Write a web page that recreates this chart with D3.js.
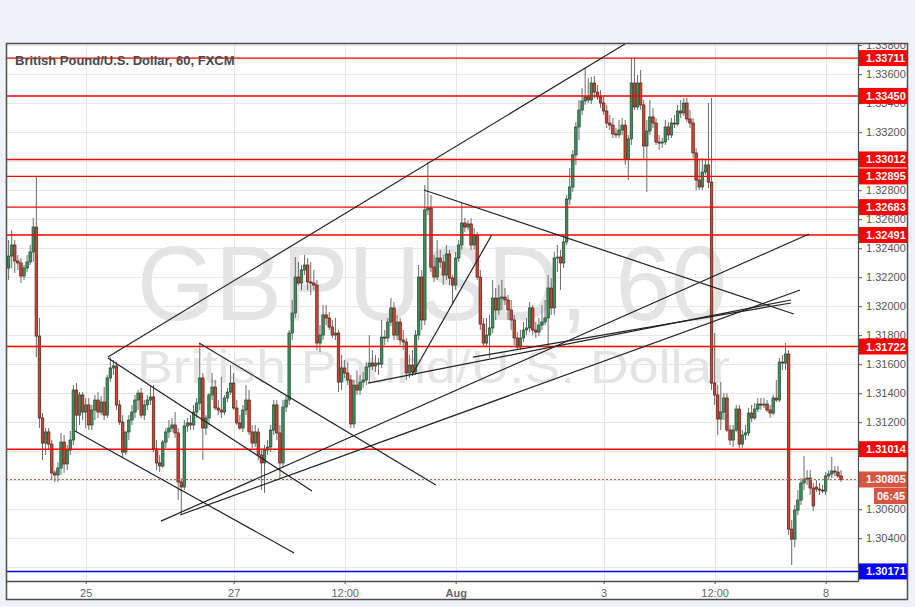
<!DOCTYPE html>
<html><head><meta charset="utf-8">
<script src="https://cdnjs.cloudflare.com/ajax/libs/d3/7.8.5/d3.min.js"></script>
<style>
html,body{margin:0;padding:0;background:#eff2f6;}
svg{display:block;}
text{font-family:"Liberation Sans",Arial,sans-serif;}
</style></head><body>
<svg id="c" width="915" height="607"></svg>
<script>
// ---------- DATA ----------
const title = "British Pound/U.S. Dollar, 60, FXCM";
const watermarkBig = "GBPUSD, 60";
const watermarkSmall = "British Pound/U.S. Dollar";
// hourly candles [open, high, low, close], one per bar index
const candles = [
[1.32263,1.32456,1.32181,1.32346],[1.32346,1.32525,1.32263,1.32422],[1.32422,1.32456,1.32229,1.32312],
[1.32312,1.32353,1.32250,1.32298],[1.32298,1.32332,1.32160,1.32208],[1.32208,1.32284,1.32181,1.32263],
[1.32263,1.32353,1.32236,1.32305],[1.32305,1.32422,1.32284,1.32374],[1.32374,1.32608,1.32305,1.32546],
[1.32546,1.32898,1.31649,1.31794],[1.31794,1.31919,1.31160,1.31229],[1.31229,1.31263,1.30939,1.31056],
[1.31056,1.31160,1.30974,1.31133],[1.31133,1.31160,1.31008,1.31049],[1.31049,1.31077,1.30801,1.30850],
[1.30850,1.30870,1.30788,1.30836],[1.30836,1.30925,1.30788,1.30884],[1.30884,1.31126,1.30836,1.31063],
[1.31063,1.31112,1.30850,1.30912],[1.30912,1.31043,1.30870,1.31008],[1.31008,1.31140,1.30974,1.31077],
[1.31077,1.31456,1.31043,1.31422],[1.31422,1.31470,1.31133,1.31249],[1.31249,1.31408,1.31181,1.31388],
[1.31388,1.31408,1.31215,1.31270],[1.31270,1.31367,1.31160,1.31319],[1.31319,1.31367,1.31146,1.31181],
[1.31181,1.31319,1.31146,1.31284],[1.31284,1.31388,1.31215,1.31353],[1.31353,1.31408,1.31229,1.31270],
[1.31270,1.31381,1.31249,1.31339],[1.31339,1.31443,1.31215,1.31249],[1.31249,1.31526,1.31229,1.31505],
[1.31505,1.31649,1.31477,1.31574],[1.31574,1.31629,1.31526,1.31588],[1.31588,1.31615,1.31284,1.31319],
[1.31319,1.31353,1.31181,1.31201],[1.31201,1.31249,1.30953,1.30994],[1.30994,1.31077,1.30974,1.31133],
[1.31133,1.31249,1.31077,1.31215],[1.31215,1.31319,1.31181,1.31270],[1.31270,1.31388,1.31229,1.31353],
[1.31353,1.31422,1.31284,1.31401],[1.31401,1.31436,1.31229,1.31249],[1.31249,1.31353,1.31215,1.31319],
[1.31319,1.31388,1.31284,1.31353],[1.31353,1.31456,1.31319,1.31374],[1.31374,1.31456,1.30994,1.31015],
[1.31015,1.31077,1.30870,1.30919],[1.30919,1.30974,1.30856,1.30898],[1.30898,1.31077,1.30884,1.31063],
[1.31063,1.31160,1.31022,1.31133],[1.31133,1.31215,1.31091,1.31160],[1.31160,1.31229,1.31133,1.31181],
[1.31181,1.31270,1.31091,1.31126],[1.31126,1.31160,1.30663,1.30788],[1.30788,1.30815,1.30560,1.30753],
[1.30753,1.31215,1.30732,1.31174],[1.31174,1.31229,1.31133,1.31195],[1.31195,1.31249,1.31146,1.31181],
[1.31181,1.31319,1.31146,1.31270],[1.31270,1.31367,1.31229,1.31332],[1.31332,1.31746,1.31284,1.31505],
[1.31505,1.31539,1.30939,1.31160],[1.31160,1.31249,1.31112,1.31229],[1.31229,1.31401,1.31181,1.31388],
[1.31388,1.31539,1.31353,1.31443],[1.31443,1.31491,1.31284,1.31298],[1.31298,1.31353,1.31249,1.31284],
[1.31284,1.31512,1.31229,1.31270],[1.31270,1.31388,1.31249,1.31367],[1.31367,1.31436,1.31339,1.31408],
[1.31408,1.31594,1.31388,1.31470],[1.31470,1.31539,1.31284,1.31298],[1.31298,1.31353,1.31181,1.31195],
[1.31195,1.31249,1.31146,1.31160],[1.31160,1.31319,1.31133,1.31284],[1.31284,1.31456,1.31249,1.31353],
[1.31353,1.31422,1.31112,1.31133],[1.31133,1.31181,1.31022,1.31056],[1.31056,1.31181,1.31029,1.31133],
[1.31133,1.31160,1.30939,1.30974],[1.30974,1.31008,1.30732,1.30919],[1.30919,1.31043,1.30712,1.31008],
[1.31008,1.31077,1.30974,1.31029],[1.31029,1.31181,1.30994,1.31146],[1.31146,1.31353,1.31112,1.31319],
[1.31319,1.31353,1.31077,1.31126],[1.31126,1.31181,1.30815,1.30919],[1.30919,1.31353,1.30884,1.31305],
[1.31305,1.31388,1.31270,1.31353],[1.31353,1.31836,1.31319,1.31815],[1.31815,1.32043,1.31767,1.31953],
[1.31953,1.32339,1.31919,1.32201],[1.32201,1.32305,1.32146,1.32160],[1.32160,1.32284,1.32112,1.32250],
[1.32250,1.32353,1.32215,1.32284],[1.32284,1.32332,1.32112,1.32167],[1.32167,1.32305,1.32077,1.32160],
[1.32160,1.32250,1.32112,1.32146],[1.32146,1.32181,1.31698,1.31746],[1.31746,1.31870,1.31684,1.31801],
[1.31801,1.32008,1.31767,1.31940],[1.31940,1.32008,1.31870,1.31919],[1.31919,1.31960,1.31836,1.31856],
[1.31856,1.31905,1.31781,1.31801],[1.31801,1.31919,1.31767,1.31815],[1.31815,1.31836,1.31408,1.31477],
[1.31477,1.31663,1.31422,1.31574],[1.31574,1.31629,1.31505,1.31539],[1.31539,1.31615,1.31456,1.31491],
[1.31491,1.31526,1.31160,1.31188],[1.31188,1.31491,1.31160,1.31456],[1.31456,1.31560,1.31388,1.31422],
[1.31422,1.31526,1.31388,1.31477],[1.31477,1.31546,1.31436,1.31491],[1.31491,1.31615,1.31456,1.31581],
[1.31581,1.31801,1.31470,1.31608],[1.31608,1.31698,1.31560,1.31588],[1.31588,1.31663,1.31546,1.31608],
[1.31608,1.31643,1.31526,1.31601],[1.31601,1.31905,1.31574,1.31787],[1.31787,1.31836,1.31732,1.31781],
[1.31781,1.31919,1.31753,1.31891],[1.31891,1.32056,1.31863,1.31988],[1.31988,1.32029,1.31767,1.31801],
[1.31801,1.31940,1.31767,1.31891],[1.31891,1.31919,1.31732,1.31767],[1.31767,1.31836,1.31698,1.31753],
[1.31753,1.31781,1.31491,1.31539],[1.31539,1.31663,1.31505,1.31594],[1.31594,1.31698,1.31519,1.31546],
[1.31546,1.31836,1.31526,1.31801],[1.31801,1.32284,1.31767,1.32201],[1.32201,1.32250,1.31836,1.31905],
[1.31905,1.32836,1.31870,1.32664],[1.32664,1.32994,1.32629,1.32677],[1.32677,1.32767,1.32236,1.32270],
[1.32270,1.32353,1.32167,1.32201],[1.32201,1.32456,1.32181,1.32332],[1.32332,1.32388,1.32263,1.32305],
[1.32305,1.32353,1.32146,1.32215],[1.32215,1.32422,1.32181,1.32360],[1.32360,1.32388,1.32146,1.32194],
[1.32194,1.32215,1.32022,1.32146],[1.32146,1.32374,1.32112,1.32332],[1.32332,1.32456,1.32305,1.32422],
[1.32422,1.32712,1.32388,1.32574],[1.32574,1.32608,1.32512,1.32546],[1.32546,1.32594,1.32525,1.32567],
[1.32567,1.32608,1.32388,1.32422],[1.32422,1.32539,1.32388,1.32491],[1.32491,1.32512,1.32181,1.32201],
[1.32201,1.32250,1.31836,1.31877],[1.31877,1.31919,1.31725,1.31746],[1.31746,1.31919,1.31725,1.31801],
[1.31801,1.31940,1.31643,1.31850],[1.31850,1.32181,1.31815,1.32056],[1.32056,1.32125,1.31905,1.31974],
[1.31974,1.32146,1.31940,1.32056],[1.32056,1.32181,1.31974,1.32063],[1.32063,1.32125,1.32008,1.32043],
[1.32043,1.32077,1.31905,1.31974],[1.31974,1.32043,1.31836,1.31905],[1.31905,1.31940,1.31732,1.31781],
[1.31781,1.31822,1.31698,1.31718],[1.31718,1.31836,1.31698,1.31781],[1.31781,1.31891,1.31753,1.31836],
[1.31836,1.31919,1.31801,1.31850],[1.31850,1.32029,1.31822,1.31988],[1.31988,1.32008,1.31801,1.31836],
[1.31836,1.31891,1.31781,1.31822],[1.31822,1.31919,1.31794,1.31870],[1.31870,1.32008,1.31836,1.31891],
[1.31891,1.32043,1.31870,1.31919],[1.31919,1.32215,1.31718,1.32125],[1.32125,1.32194,1.31940,1.31988],
[1.31988,1.32374,1.31940,1.32332],[1.32332,1.32422,1.32236,1.32339],[1.32339,1.32388,1.32112,1.32298],
[1.32298,1.32491,1.32263,1.32443],[1.32443,1.32767,1.32422,1.32739],[1.32739,1.32953,1.32698,1.32822],
[1.32822,1.33077,1.32788,1.33043],[1.33043,1.33270,1.32974,1.33236],[1.33236,1.33422,1.33146,1.33353],
[1.33353,1.33505,1.33319,1.33415],[1.33415,1.33643,1.33388,1.33443],[1.33443,1.33574,1.33401,1.33422],
[1.33422,1.33581,1.33394,1.33539],[1.33539,1.33588,1.33436,1.33477],[1.33477,1.33525,1.33422,1.33443],
[1.33443,1.33491,1.33367,1.33401],[1.33401,1.33450,1.33319,1.33346],[1.33346,1.33388,1.33229,1.33263],
[1.33263,1.33319,1.33215,1.33249],[1.33249,1.33298,1.33160,1.33188],[1.33188,1.33229,1.33160,1.33181],
[1.33181,1.33284,1.33160,1.33215],[1.33215,1.33298,1.33181,1.33249],[1.33249,1.33284,1.32974,1.33015],
[1.33015,1.33181,1.32870,1.33153],[1.33153,1.33712,1.33112,1.33539],[1.33539,1.33712,1.33353,1.33374],
[1.33374,1.33594,1.33353,1.33539],[1.33539,1.33629,1.33353,1.33388],[1.33388,1.33422,1.33008,1.33105],
[1.33105,1.33284,1.32788,1.33208],[1.33208,1.33422,1.33181,1.33305],[1.33305,1.33367,1.33229,1.33263],
[1.33263,1.33298,1.33112,1.33132],[1.33132,1.33181,1.33077,1.33125],[1.33125,1.33160,1.33091,1.33132],
[1.33132,1.33284,1.33112,1.33236],[1.33236,1.33270,1.33146,1.33181],[1.33181,1.33298,1.33160,1.33263],
[1.33263,1.33319,1.33229,1.33256],[1.33256,1.33388,1.33243,1.33346],[1.33346,1.33422,1.33298,1.33332],
[1.33332,1.33436,1.33312,1.33401],[1.33401,1.33436,1.33270,1.33291],[1.33291,1.33353,1.33229,1.33263],
[1.33263,1.33298,1.33022,1.33057],[1.33057,1.33091,1.32801,1.32870],[1.32870,1.33008,1.32801,1.32822],
[1.32822,1.33022,1.32801,1.32925],[1.32925,1.33008,1.32905,1.32974],[1.32974,1.33401,1.32815,1.32856],
[1.32856,1.33436,1.31422,1.31470],[1.31470,1.31815,1.31319,1.31388],[1.31388,1.31456,1.31112,1.31222],
[1.31222,1.31477,1.31146,1.31270],[1.31270,1.31401,1.31215,1.31367],[1.31367,1.31401,1.31133,1.31146],
[1.31146,1.31181,1.31043,1.31077],[1.31077,1.31181,1.31029,1.31146],[1.31146,1.31319,1.31133,1.31291],
[1.31291,1.31319,1.31022,1.31049],[1.31049,1.31146,1.31022,1.31112],[1.31112,1.31181,1.31077,1.31126],
[1.31126,1.31298,1.31105,1.31263],[1.31263,1.31319,1.31201,1.31229],[1.31229,1.31332,1.31215,1.31291],
[1.31291,1.31367,1.31270,1.31325],[1.31325,1.31367,1.31284,1.31319],[1.31319,1.31367,1.31298,1.31325],
[1.31325,1.31353,1.31270,1.31284],[1.31284,1.31319,1.31229,1.31263],[1.31263,1.31388,1.31249,1.31367],
[1.31367,1.31491,1.31339,1.31353],[1.31353,1.31643,1.31339,1.31615],[1.31615,1.31663,1.31560,1.31608],
[1.31608,1.31746,1.31560,1.31670],[1.31670,1.31698,1.30422,1.30463],[1.30463,1.30525,1.30215,1.30394],
[1.30394,1.30629,1.30339,1.30594],[1.30594,1.30732,1.30560,1.30663],[1.30663,1.30815,1.30629,1.30781],
[1.30781,1.30967,1.30732,1.30808],[1.30808,1.30870,1.30767,1.30815],[1.30815,1.30870,1.30698,1.30746],
[1.30746,1.30781,1.30588,1.30622],[1.30753,1.30801,1.30718,1.30739],[1.30739,1.30781,1.30698,1.30732],
[1.30732,1.30767,1.30712,1.30725],[1.30725,1.30856,1.30698,1.30829],[1.30829,1.30870,1.30801,1.30843],
[1.30843,1.30960,1.30815,1.30863],[1.30863,1.30898,1.30829,1.30856],[1.30856,1.30898,1.30815,1.30829],
[1.30829,1.30870,1.30788,1.30805]
];
const xTickBars   = [25, 73, 109, 145, 193, 229, 265];
const xTickLabels = ["25", "27", "12:00", "Aug", "3", "12:00", "8"];
const yTickValues = [1.302,1.304,1.306,1.308,1.310,1.312,1.314,1.316,1.318,1.320,1.322,1.324,1.326,1.328,1.330,1.332,1.334,1.336,1.338];
const redLevels  = [1.33711, 1.33450, 1.33012, 1.32895, 1.32683, 1.32491, 1.31722, 1.31014];
const blueLevel  = 1.30171;
const lastPrice  = 1.30805;
const countdown  = "06:45";
// trend lines: [barIndex1, price1, barIndex2, price2]
const trendLines = [
  [32.2, 1.31649, 199.9, 1.33808],
  [32.2, 1.31643, 98.4, 1.30725],
  [21.5, 1.31140, 92.6, 1.30298],
  [61.8, 1.31746, 138.6, 1.30767],
  [49.4, 1.30518, 259.6, 1.32498],
  [55.6, 1.30560, 256.7, 1.32112],
  [116.6, 1.31470, 253.8, 1.32043],
  [150.6, 1.31649, 253.8, 1.32022],
  [130.8, 1.31526, 156.7, 1.32491],
  [134.7, 1.32801, 254.7, 1.31946]
];

// ---------- LAYOUT ----------
const L = 6, R = 858, T = 43, B = 581, AX = 908, FB = 600;
const svg = d3.select("#c");
const x = d3.scaleLinear().domain([-0.843, 275.5]).range([L, R]);
const y = d3.scaleLinear().domain([1.30105, 1.33815]).range([B, T]);
const crisp = v => Math.round(v) + 0.5;

svg.append("rect").attr("width", 915).attr("height", 607).attr("fill", "#eff2f6");
svg.append("rect").attr("x", L).attr("y", T).attr("width", AX - L).attr("height", FB - T).attr("fill", "#fff");

const defs = svg.append("defs");
defs.append("clipPath").attr("id", "plotClip").append("rect")
  .attr("x", L).attr("y", T).attr("width", R - L).attr("height", B - T);
defs.append("clipPath").attr("id", "axisClip").append("rect")
  .attr("x", R).attr("y", T + 1).attr("width", AX - R).attr("height", B - T - 1);

// watermark
svg.append("text").attr("x", 137).attr("y", 320).attr("font-size", 106)
  .attr("textLength", 590).attr("lengthAdjust", "spacingAndGlyphs")
  .attr("fill", "#e4e4e4").text(watermarkBig);
svg.append("text").attr("x", 137).attr("y", 383).attr("font-size", 46)
  .attr("textLength", 593).attr("lengthAdjust", "spacingAndGlyphs")
  .attr("fill", "#e4e4e4").text(watermarkSmall);

// grid
const grid = svg.append("g").attr("stroke", "#e6e6e6").attr("stroke-width", 1);
grid.selectAll("line.h").data(yTickValues).join("line")
  .attr("x1", L).attr("x2", R).attr("y1", d => crisp(y(d))).attr("y2", d => crisp(y(d)));
grid.selectAll("line.v").data(xTickBars).join("line")
  .attr("y1", T).attr("y2", B).attr("x1", d => crisp(x(d))).attr("x2", d => crisp(x(d)));

// candles
const cg = svg.append("g").attr("clip-path", "url(#plotClip)");
const bars = cg.selectAll("g.c").data(candles).join("g");
bars.append("line")
  .attr("x1", (d, i) => x(i)).attr("x2", (d, i) => x(i))
  .attr("y1", d => y(d[1])).attr("y2", d => y(d[2]))
  .attr("stroke", "#6a6a6a").attr("stroke-width", 1);
bars.append("rect")
  .attr("x", (d, i) => x(i) - 1.25).attr("width", 2.5)
  .attr("y", d => y(Math.max(d[0], d[3])))
  .attr("height", d => Math.max(1, Math.abs(y(d[0]) - y(d[3]))))
  .attr("fill", d => d[3] >= d[0] ? "#3f8f5e" : "#cf4434")
  .attr("stroke", d => d[3] >= d[0] ? "#1f4a2f" : "#5a1a10")
  .attr("stroke-width", 0.7);

// horizontal levels
const lv = svg.append("g");
lv.selectAll("line.r").data(redLevels).join("line")
  .attr("x1", L).attr("x2", R).attr("y1", d => y(d)).attr("y2", d => y(d))
  .attr("stroke", "#ff0000").attr("stroke-width", 1.4);
lv.append("line").attr("x1", L).attr("x2", R).attr("y1", y(blueLevel)).attr("y2", y(blueLevel))
  .attr("stroke", "#0000ee").attr("stroke-width", 1.4);
lv.append("line").attr("x1", L).attr("x2", R).attr("y1", crisp(y(lastPrice))).attr("y2", crisp(y(lastPrice)))
  .attr("stroke", "#d9553f").attr("stroke-width", 1).attr("stroke-dasharray", "2,2");

// trend lines
svg.append("g").attr("clip-path", "url(#plotClip)").selectAll("line").data(trendLines).join("line")
  .attr("x1", d => x(d[0])).attr("y1", d => y(d[1]))
  .attr("x2", d => x(d[2])).attr("y2", d => y(d[3]))
  .attr("stroke", "#222").attr("stroke-width", 1.2);

// price axis (labels fully hidden behind a level tag are not drawn)
const tagged = redLevels.concat([lastPrice, blueLevel]);
const hidden = v => tagged.some(t => Math.abs(y(t) - y(v)) < 6);
const yaWrap = svg.append("g").attr("clip-path", "url(#axisClip)");
const ya = yaWrap.append("g").attr("transform", `translate(${R},0)`)
  .call(d3.axisRight(y).tickValues(yTickValues).tickSize(4).tickPadding(4)
    .tickFormat(v => hidden(v) ? "" : d3.format(".5f")(v)));
ya.select(".domain").remove();
ya.selectAll("line").attr("stroke", "#555");
ya.selectAll("text").attr("fill", "#555").attr("font-size", 11).attr("font-family", "Liberation Sans, Arial, sans-serif");

// x axis
const xa = svg.append("g").attr("transform", `translate(0,${B})`)
  .call(d3.axisBottom(x).tickValues(xTickBars).tickSize(3).tickPadding(5).tickFormat((d, i) => xTickLabels[i]));
xa.select(".domain").remove();
xa.selectAll("line").attr("stroke", "#555");
xa.selectAll("text").attr("fill", "#666").attr("font-size", 11).attr("font-family", "Liberation Sans, Arial, sans-serif")
  .attr("font-weight", (d, i) => xTickLabels[i] === "Aug" ? "bold" : "normal");

// level labels
function tag(val, color, label) {
  const cy = y(val);
  svg.append("rect").attr("x", R + 1).attr("y", cy - 8).attr("width", AX - R - 1).attr("height", 16).attr("fill", color);
  svg.append("text").attr("x", R + 8).attr("y", cy + 4).attr("fill", "#fff").attr("font-size", 11)
    .attr("font-weight", "bold").text(label);
}
redLevels.forEach(v => tag(v, "#ff0000", d3.format(".5f")(v)));
tag(lastPrice, "#d9553f", d3.format(".5f")(lastPrice));
tag(blueLevel, "#0000ff", d3.format(".5f")(blueLevel));
const cdY = y(lastPrice) + 8.5;
svg.append("rect").attr("x", 874).attr("y", cdY).attr("width", AX - 874).attr("height", 16).attr("fill", "#d9553f");
svg.append("text").attr("x", 877).attr("y", cdY + 12).attr("fill", "#fff").attr("font-size", 11)
  .attr("font-weight", "bold").text(countdown);

// frame
const fr = svg.append("g").attr("stroke", "#4d4d4d").attr("fill", "none");
fr.append("rect").attr("x", L + 0.5).attr("y", T + 0.5).attr("width", AX - L - 1).attr("height", FB - T - 1).attr("stroke-width", 1.5);
fr.append("line").attr("x1", L).attr("x2", R).attr("y1", B + 0.5).attr("y2", B + 0.5).attr("stroke-width", 1.5);
fr.append("line").attr("x1", R + 0.5).attr("x2", R + 0.5).attr("y1", T).attr("y2", B + 1).attr("stroke-width", 1.2);

// title
svg.append("text").attr("x", 15).attr("y", 65).attr("font-size", 13).attr("font-weight", "bold")
  .attr("fill", "#4a4a4a").text(title);
</script></body></html>
